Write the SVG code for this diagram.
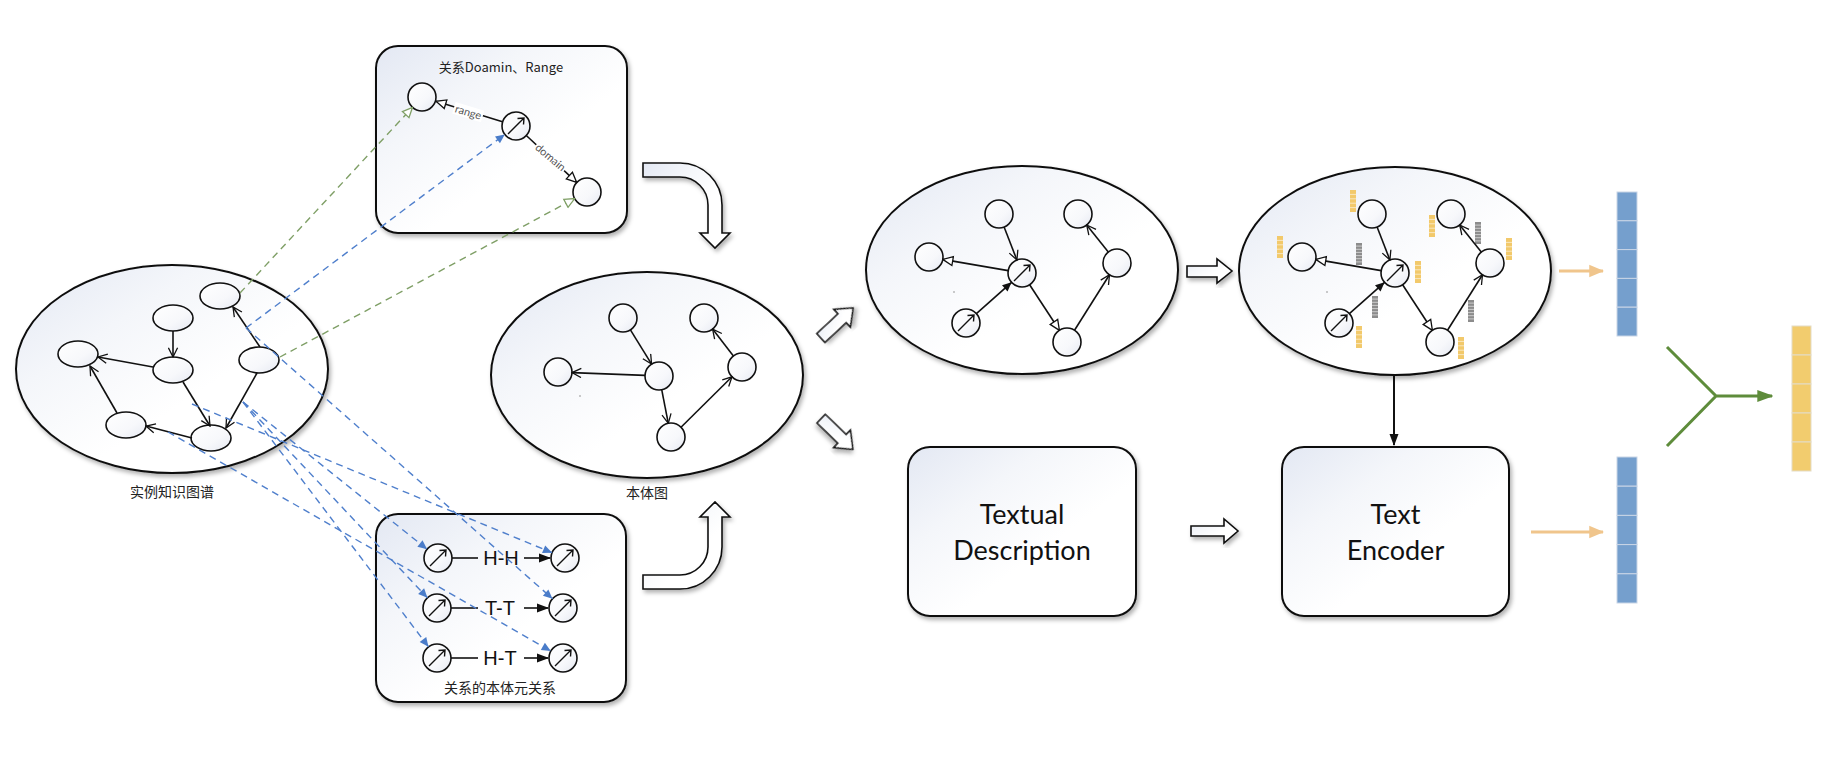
<svg xmlns="http://www.w3.org/2000/svg" width="1834" height="763" viewBox="0 0 1834 763">
<defs>
<style>
.cont{fill:url(#gFill);stroke:#111;stroke-width:2;filter:url(#sh)}
.blk{fill:url(#gFill);stroke:#111;stroke-width:1.6;filter:url(#sh)}
.nd{fill:url(#gNode);stroke:#111;stroke-width:1.6}
.e{fill:none;stroke:#111;stroke-width:1.6}
.dg{fill:none;stroke:#7f9f66;stroke-width:1.4;stroke-dasharray:7 5}
.db{fill:none;stroke:#4f7fcc;stroke-width:1.4;stroke-dasharray:7 5}
.cn{font-family:"Noto Sans CJK SC","Noto Sans",sans-serif;font-size:14px;fill:#222;text-anchor:middle}
.el{font-family:Lato,"Liberation Sans",sans-serif;font-size:11px;fill:#555;text-anchor:middle}
.rl{font-family:"Liberation Sans",Arial,sans-serif;font-size:20px;fill:#111;text-anchor:middle}
.big{font-family:Lato,"Liberation Sans",sans-serif;font-size:27px;fill:#111;text-anchor:middle}
.yb{fill:#f2c96b}
.gb{fill:#8c8c8c}
.sep{stroke:#fff;stroke-width:0.7;opacity:0.8}
.vb{fill:#759fcd;stroke:#c9d5e6;stroke-width:1}
.vy{fill:#f2cc6e;stroke:#e4dcc6;stroke-width:1}
</style>
<linearGradient id="gFill" x1="0" y1="0" x2="1" y2="1">
<stop offset="0" stop-color="#e3e8f3"/>
<stop offset="0.3" stop-color="#f4f6fa"/>
<stop offset="0.6" stop-color="#ffffff"/>
</linearGradient>
<linearGradient id="gNode" x1="0" y1="0" x2="1" y2="1">
<stop offset="0" stop-color="#ffffff"/>
<stop offset="0.6" stop-color="#f7f8fb"/>
<stop offset="1" stop-color="#e6e9f2"/>
</linearGradient>
<filter id="sh" x="-10%" y="-10%" width="125%" height="130%">
<feDropShadow dx="2" dy="3" stdDeviation="2" flood-color="#000" flood-opacity="0.3"/>
</filter>
<marker id="mV" viewBox="0 0 12 12" refX="11" refY="6" markerWidth="11" markerHeight="11" markerUnits="userSpaceOnUse" orient="auto">
<path d="M1,1 L11,6 L1,11" fill="none" stroke="#111" stroke-width="1.4"/>
</marker>
<marker id="mTH" viewBox="0 0 12 12" refX="11" refY="6" markerWidth="12" markerHeight="12" markerUnits="userSpaceOnUse" orient="auto">
<path d="M1,1.5 L11,6 L1,10.5 Z" fill="#fff" stroke="#111" stroke-width="1.3"/>
</marker>
<marker id="mTF" viewBox="0 0 12 12" refX="11" refY="6" markerWidth="11" markerHeight="11" markerUnits="userSpaceOnUse" orient="auto">
<path d="M1,1.5 L11,6 L1,10.5 Z" fill="#111"/>
</marker>
<marker id="mB" viewBox="0 0 12 12" refX="11" refY="6" markerWidth="11" markerHeight="11" markerUnits="userSpaceOnUse" orient="auto">
<path d="M1,1.5 L11,6 L1,10.5 Z" fill="#4a7cc9"/>
</marker>
<marker id="mGH" viewBox="0 0 12 12" refX="11" refY="6" markerWidth="12" markerHeight="12" markerUnits="userSpaceOnUse" orient="auto">
<path d="M1,1.5 L11,6 L1,10.5 Z" fill="#fff" stroke="#7f9f66" stroke-width="1.3"/>
</marker>
<marker id="mO" viewBox="0 0 12 12" refX="11" refY="6" markerWidth="15" markerHeight="15" markerUnits="userSpaceOnUse" orient="auto">
<path d="M0,1 L12,6 L0,11 Z" fill="#f0c58c"/>
</marker>
<marker id="mG" viewBox="0 0 12 12" refX="11" refY="6" markerWidth="16" markerHeight="16" markerUnits="userSpaceOnUse" orient="auto">
<path d="M0,1.5 L12,6 L0,10.5 Z" fill="#5e8c3b"/>
</marker>
<marker id="mK" viewBox="0 0 12 12" refX="11" refY="6" markerWidth="12" markerHeight="12" markerUnits="userSpaceOnUse" orient="auto">
<path d="M0,1.5 L12,6 L0,10.5 Z" fill="#111"/>
</marker>
<g id="relc">
<circle r="14" class="nd"/>
<path d="M-8,8 L8,-8 M1.5,-7.5 L8,-8 L7.5,-1.5" fill="none" stroke="#111" stroke-width="1.4"/>
</g>
<g id="ybar">
<rect x="0" y="0" width="6" height="22" class="yb"/>
<path d="M0,4.4H6M0,8.8H6M0,13.2H6M0,17.6H6" class="sep"/>
</g>
<g id="gbar">
<rect x="0" y="0" width="6" height="22" class="gb"/>
<path d="M0,3.1H6M0,6.3H6M0,9.4H6M0,12.6H6M0,15.7H6M0,18.9H6" class="sep"/>
</g>
</defs>

<rect x="0" y="0" width="1834" height="763" fill="#fff"/>

<!-- containers -->
<g id="instance-kg">
<ellipse cx="172" cy="369" rx="156" ry="104" class="cont"/>
<text x="172" y="497" class="cn">实例知识图谱</text>
</g>
<g id="domain-range-box">
<rect x="376" y="46" width="251" height="187" rx="22" class="cont"/>
<text x="501" y="72" class="cn" style="font-size:13px">关系Doamin、Range</text>
</g>
<g id="meta-relation-box">
<rect x="376" y="514" width="250" height="188" rx="22" class="cont"/>
<text x="500" y="693" class="cn">关系的本体元关系</text>
</g>
<g id="ontology-graph">
<ellipse cx="647" cy="375" rx="156" ry="103" class="cont"/>
<text x="647" y="498" class="cn">本体图</text>
<circle cx="580" cy="396" r="0.8" fill="#888"/>
</g>
<g id="structure-graph">
<ellipse cx="1022" cy="270" rx="156" ry="104" class="cont"/>
<circle cx="954" cy="292" r="0.8" fill="#888"/>
</g>
<g id="embedded-graph">
<ellipse cx="1395" cy="271" rx="156" ry="104" class="cont"/>
<circle cx="1327" cy="292" r="0.8" fill="#888"/>
</g>
<g id="textual-description">
<rect x="908" y="447" width="228" height="169" rx="22" class="cont"/>
<text x="1022" y="524" class="big">Textual</text>
<text x="1022" y="560" class="big">Description</text>
</g>
<g id="text-encoder">
<rect x="1282" y="447" width="227" height="169" rx="22" class="cont"/>
<text x="1395.5" y="524" class="big">Text</text>
<text x="1395.5" y="560" class="big">Encoder</text>
</g>

<!-- block arrows -->
<g id="block-arrows">
<path d="M643,163 L680,163 A42,42 0 0 1 722,205 L722,233 L730,233 L715,248 L700,233 L708,233 L708,205 A28,28 0 0 0 680,177 L643,177 Z" class="blk"/>
<path d="M643,589 L680,589 A42,42 0 0 0 722,547 L722,517 L730,517 L715,502 L700,517 L708,517 L708,547 A28,28 0 0 1 680,575 L643,575 Z" class="blk"/>
<path d="M-22,-6 L7,-6 L7,-12 L22,0 L7,12 L7,6 L-22,6 Z" class="blk" transform="translate(837,323) rotate(-43)"/>
<path d="M-22,-6 L7,-6 L7,-12 L22,0 L7,12 L7,6 L-22,6 Z" class="blk" transform="translate(837,434) rotate(44)"/>
<path d="M1187,266 L1217,266 L1217,259 L1232,271 L1217,283 L1217,277 L1187,277 Z" class="blk"/>
<path d="M1191,526 L1224,526 L1224,519 L1238,531 L1224,543 L1224,536 L1191,536 Z" class="blk"/>
</g>

<!-- nodes: instance KG -->
<g id="ik-tr"><ellipse cx="220" cy="296" rx="20" ry="13" class="nd"/></g>
<g id="ik-tm"><ellipse cx="173" cy="318" rx="20" ry="13" class="nd"/></g>
<g id="ik-l"><ellipse cx="78" cy="354" rx="20" ry="13" class="nd"/></g>
<g id="ik-m"><ellipse cx="173" cy="370" rx="20" ry="13" class="nd"/></g>
<g id="ik-r"><ellipse cx="259" cy="360" rx="20" ry="13" class="nd"/></g>
<g id="ik-bl"><ellipse cx="126" cy="425" rx="20" ry="13" class="nd"/></g>
<g id="ik-br"><ellipse cx="211" cy="438" rx="20" ry="13" class="nd"/></g>

<!-- nodes: domain/range box -->
<g id="dr-range"><circle cx="422" cy="97" r="14" class="nd"/></g>
<g id="dr-rel"><use href="#relc" x="516" y="126"/></g>
<g id="dr-domain"><circle cx="587" cy="192" r="14" class="nd"/></g>

<!-- nodes: meta relation box -->
<g id="mr-1a"><use href="#relc" x="438" y="558"/></g>
<g id="mr-1b"><use href="#relc" x="565" y="558"/></g>
<g id="mr-2a"><use href="#relc" x="437" y="608"/></g>
<g id="mr-2b"><use href="#relc" x="563" y="608"/></g>
<g id="mr-3a"><use href="#relc" x="437" y="658"/></g>
<g id="mr-3b"><use href="#relc" x="563" y="658"/></g>

<!-- nodes: ontology graph -->
<g id="og-1"><circle cx="623" cy="318" r="14" class="nd"/></g>
<g id="og-2"><circle cx="704" cy="318" r="14" class="nd"/></g>
<g id="og-3"><circle cx="558" cy="372" r="14" class="nd"/></g>
<g id="og-4"><circle cx="659" cy="376" r="14" class="nd"/></g>
<g id="og-5"><circle cx="742" cy="367" r="14" class="nd"/></g>
<g id="og-6"><circle cx="671" cy="437" r="14" class="nd"/></g>

<!-- nodes: structure graph -->
<g id="sg-a"><circle cx="999" cy="214" r="14" class="nd"/></g>
<g id="sg-b"><circle cx="929" cy="257" r="14" class="nd"/></g>
<g id="sg-c"><use href="#relc" x="1022" y="273"/></g>
<g id="sg-d"><use href="#relc" x="966" y="323"/></g>
<g id="sg-e"><circle cx="1067" cy="342" r="14" class="nd"/></g>
<g id="sg-f"><circle cx="1117" cy="263" r="14" class="nd"/></g>
<g id="sg-g"><circle cx="1078" cy="214" r="14" class="nd"/></g>

<!-- nodes: embedded graph -->
<g transform="translate(373,0)">
<g id="eg-a"><circle cx="999" cy="214" r="14" class="nd"/><use href="#ybar" x="977" y="190"/></g>
<g id="eg-b"><circle cx="929" cy="257" r="14" class="nd"/><use href="#ybar" x="904" y="236"/></g>
<g id="eg-c"><use href="#relc" x="1022" y="273"/><use href="#ybar" x="1042" y="261"/></g>
<g id="eg-d"><use href="#relc" x="966" y="323"/><use href="#ybar" x="983" y="326"/></g>
<g id="eg-e"><circle cx="1067" cy="342" r="14" class="nd"/><use href="#ybar" x="1085" y="337"/></g>
<g id="eg-f"><circle cx="1117" cy="263" r="14" class="nd"/><use href="#ybar" x="1133" y="238"/></g>
<g id="eg-g"><circle cx="1078" cy="214" r="14" class="nd"/><use href="#ybar" x="1056" y="215"/></g>
<g id="eg-relbars">
<use href="#gbar" x="983" y="243"/>
<use href="#gbar" x="999" y="296"/>
<use href="#gbar" x="1102" y="222"/>
<use href="#gbar" x="1095" y="300"/>
</g>
</g>

<!-- vectors -->
<g id="vec-struct">
<rect x="1617" y="192" width="20" height="28.8" class="vb"/>
<rect x="1617" y="220.8" width="20" height="28.8" class="vb"/>
<rect x="1617" y="249.6" width="20" height="28.8" class="vb"/>
<rect x="1617" y="278.4" width="20" height="28.8" class="vb"/>
<rect x="1617" y="307.2" width="20" height="28.8" class="vb"/>
</g>
<g id="vec-text">
<rect x="1617" y="457" width="20" height="29.2" class="vb"/>
<rect x="1617" y="486.2" width="20" height="29.2" class="vb"/>
<rect x="1617" y="515.4" width="20" height="29.2" class="vb"/>
<rect x="1617" y="544.6" width="20" height="29.2" class="vb"/>
<rect x="1617" y="573.8" width="20" height="29.2" class="vb"/>
</g>
<g id="vec-fused">
<rect x="1792" y="326" width="19" height="29" class="vy"/>
<rect x="1792" y="355" width="19" height="29" class="vy"/>
<rect x="1792" y="384" width="19" height="29" class="vy"/>
<rect x="1792" y="413" width="19" height="29" class="vy"/>
<rect x="1792" y="442" width="19" height="29" class="vy"/>
</g>

<!-- connectors -->
<g id="connectors">
<!-- instance KG edges -->
<line x1="173" y1="331" x2="173" y2="357" class="e" marker-end="url(#mV)"/>
<line x1="153" y1="367" x2="98" y2="357" class="e" marker-end="url(#mV)"/>
<line x1="183" y1="382" x2="210" y2="426" class="e" marker-end="url(#mV)"/>
<line x1="257" y1="373" x2="226" y2="428" class="e" marker-end="url(#mV)"/>
<line x1="260" y1="347" x2="233" y2="307" class="e" marker-end="url(#mV)"/>
<line x1="192" y1="438" x2="146" y2="426" class="e" marker-end="url(#mV)"/>
<line x1="117" y1="413" x2="90" y2="366" class="e" marker-end="url(#mV)"/>
<!-- domain/range edges -->
<line x1="502.5" y1="121.8" x2="436" y2="101.3" class="e" marker-end="url(#mTH)"/>
<line x1="526.3" y1="135.5" x2="576.7" y2="182.4" class="e" marker-end="url(#mTH)"/>
<g transform="translate(468,113) rotate(17)"><rect x="-15" y="-7" width="30" height="12" fill="#fff"/><text x="0" y="3" class="el">range</text></g>
<g transform="translate(550,158) rotate(40)"><rect x="-19" y="-6" width="38" height="11" fill="#fff"/><text x="0" y="3" class="el">domain</text></g>
<!-- meta relation rows -->
<line x1="452" y1="558" x2="478" y2="558" class="e"/>
<line x1="524" y1="558" x2="550" y2="558" class="e" marker-end="url(#mK)"/>
<text x="501" y="565" class="rl">H-H</text>
<line x1="451" y1="608" x2="478" y2="608" class="e"/>
<line x1="524" y1="608" x2="548" y2="608" class="e" marker-end="url(#mK)"/>
<text x="500" y="615" class="rl">T-T</text>
<line x1="451" y1="658" x2="478" y2="658" class="e"/>
<line x1="524" y1="658" x2="548" y2="658" class="e" marker-end="url(#mK)"/>
<text x="500" y="665" class="rl">H-T</text>
<!-- ontology edges -->
<line x1="630.4" y1="329.9" x2="651.6" y2="364.1" class="e" marker-end="url(#mV)"/>
<line x1="645" y1="375.4" x2="572" y2="372.6" class="e" marker-end="url(#mV)"/>
<line x1="661.7" y1="389.7" x2="668.3" y2="423.3" class="e" marker-end="url(#mV)"/>
<line x1="681" y1="427.2" x2="732" y2="376.8" class="e" marker-end="url(#mV)"/>
<line x1="733.4" y1="355.9" x2="712.6" y2="329.1" class="e" marker-end="url(#mV)"/>
<!-- structure graph edges (and copy for embedded graph) -->
<g id="sg-edges">
<line x1="1004.1" y1="227" x2="1016.9" y2="260" class="e" marker-end="url(#mV)"/>
<line x1="1008.2" y1="270.6" x2="942.8" y2="259.4" class="e" marker-end="url(#mTH)"/>
<line x1="976.4" y1="313.7" x2="1011.6" y2="282.3" class="e" marker-end="url(#mTF)"/>
<line x1="1029.6" y1="284.7" x2="1059.4" y2="330.3" class="e" marker-end="url(#mTH)"/>
<line x1="1074.5" y1="330.2" x2="1109.5" y2="274.8" class="e" marker-end="url(#mV)"/>
<line x1="1108.3" y1="252" x2="1086.7" y2="225" class="e" marker-end="url(#mV)"/>
</g>
<g id="eg-edges" transform="translate(373,0)">
<line x1="1004.1" y1="227" x2="1016.9" y2="260" class="e" marker-end="url(#mV)"/>
<line x1="1008.2" y1="270.6" x2="942.8" y2="259.4" class="e" marker-end="url(#mTH)"/>
<line x1="976.4" y1="313.7" x2="1011.6" y2="282.3" class="e" marker-end="url(#mTF)"/>
<line x1="1029.6" y1="284.7" x2="1059.4" y2="330.3" class="e" marker-end="url(#mTH)"/>
<line x1="1074.5" y1="330.2" x2="1109.5" y2="274.8" class="e" marker-end="url(#mV)"/>
<line x1="1108.3" y1="252" x2="1086.7" y2="225" class="e" marker-end="url(#mV)"/>
</g>
<!-- pipeline arrows -->
<line x1="1394" y1="376" x2="1394" y2="445" stroke="#111" stroke-width="2" marker-end="url(#mK)"/>
<line x1="1559" y1="271" x2="1603" y2="271" stroke="#f0c58c" stroke-width="3" marker-end="url(#mO)"/>
<line x1="1531" y1="532" x2="1603" y2="532" stroke="#f0c58c" stroke-width="3" marker-end="url(#mO)"/>
<path d="M1667,347 L1716,396 L1667,446 M1716,396 L1772,396" fill="none" stroke="#5e8c3b" stroke-width="3" marker-end="url(#mG)"/>
<!-- mapping dashed lines -->
<line x1="240" y1="293" x2="412.5" y2="107.3" class="dg" marker-end="url(#mGH)"/>
<line x1="280" y1="357" x2="574.7" y2="198.6" class="dg" marker-end="url(#mGH)"/>
<line x1="246" y1="328" x2="504.8" y2="134.4" class="db" marker-end="url(#mB)"/>
<line x1="246" y1="328" x2="552.5" y2="598.7" class="db" marker-end="url(#mB)"/>
<line x1="192" y1="404" x2="552.1" y2="552.7" class="db" marker-end="url(#mB)"/>
<line x1="168" y1="432" x2="550.8" y2="651" class="db" marker-end="url(#mB)"/>
<line x1="243" y1="402" x2="427.1" y2="549.3" class="db" marker-end="url(#mB)"/>
<line x1="243" y1="402" x2="427.4" y2="597.8" class="db" marker-end="url(#mB)"/>
<line x1="243" y1="402" x2="428.5" y2="646.8" class="db" marker-end="url(#mB)"/>
</g>
</svg>
